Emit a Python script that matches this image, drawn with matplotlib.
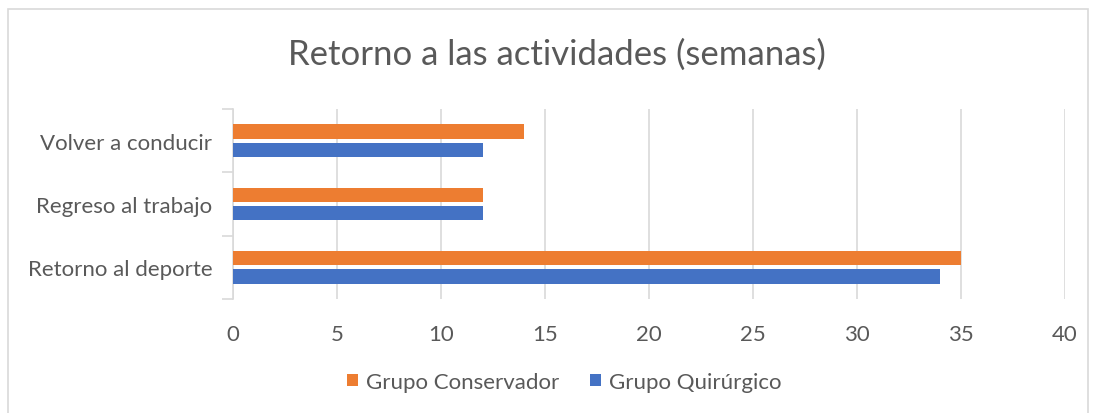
import numpy as np
import matplotlib.pyplot as plt
from matplotlib.patches import Rectangle

categories = ['Retorno al deporte', 'Regreso al trabajo', 'Volver a conducir']
conservador = [35, 12, 14]
quirurgico = [34, 12, 12]
series_names = ['Grupo Conservador', 'Grupo Quirúrgico']
xticks = [0, 5, 10, 15, 20, 25, 30, 35, 40]

orange = '#ED7D31'
blue = '#4472C4'
grey_text = '#595959'
grid_col = '#D9D9D9'

plt.rcParams['font.family'] = ['Lato', 'DejaVu Sans']

fig = plt.figure(figsize=(10.96, 4.14), dpi=100)
ax = fig.add_axes([0.2126, 0.2754, 0.7591, 0.4589])

y = np.arange(len(categories))
h = 0.225
off = 0.145
ax.barh(y + off, conservador, height=h, color=orange, label=series_names[0], zorder=3)
ax.barh(y - off, quirurgico, height=h, color=blue, label=series_names[1], zorder=3)

ax.set_xlim(0, 40)
ax.set_ylim(-0.5, 2.5)
ax.set_xticks(xticks)
ax.set_xticklabels([str(t) for t in xticks], fontsize=16, color=grey_text)
ax.set_yticks(y)
ax.set_yticklabels(categories, fontsize=16, color=grey_text)
ax.tick_params(axis='y', length=0, pad=15)
ax.tick_params(axis='x', length=0, pad=18)

# category boundary ticks on the y axis
ax.set_yticks([-0.5, 0.5, 1.5, 2.5], minor=True)
ax.tick_params(axis='y', which='minor', length=8, color=grid_col, width=1.2)

ax.grid(axis='x', color=grid_col, linewidth=1.2, zorder=0)
for s in ['top', 'right', 'bottom']:
    ax.spines[s].set_visible(False)
ax.spines['left'].set_color(grid_col)
ax.spines['left'].set_linewidth(1.2)

fig.text(0.508, 0.868, 'Retorno a las actividades (semanas)', ha='center', va='center',
         fontsize=25, color=grey_text)

handles, labels = ax.get_legend_handles_labels()
fig.legend(handles, labels, loc='center', bbox_to_anchor=(0.515, 0.075), ncol=2, frameon=False,
           fontsize=16, labelcolor=grey_text, handlelength=0.5, handleheight=0.5,
           handletextpad=0.35, columnspacing=1.4)

fig.patches.append(Rectangle((0.007, -0.01), 0.986, 0.985, transform=fig.transFigure,
                             fill=False, edgecolor=grid_col, linewidth=1.2))

fig.savefig('out.png', dpi=100, facecolor='white')
